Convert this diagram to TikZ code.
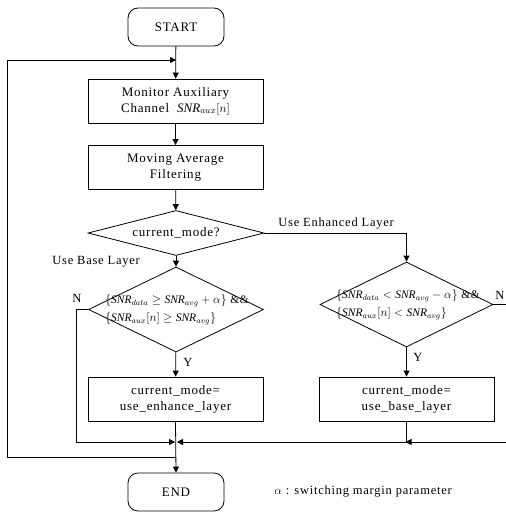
\documentclass[tikz,border=0pt]{standalone}
\usepackage{fontspec}
\setmainfont[LetterSpace=6]{Liberation Serif}
\usetikzlibrary{shapes.geometric,arrows.meta}
\begin{document}
\begin{tikzpicture}[x=1pt,y=-1pt,
  font=\fontsize{13}{16}\selectfont,
  every node/.style={inner sep=0pt},
  term/.style={draw,rounded corners=10pt,minimum width=96pt,minimum height=38pt},
  procbox/.style={draw,minimum width=175pt,minimum height=44pt,align=center},
  cond/.style={align=left,font=\fontsize{11.5}{18}\selectfont},
  lbl/.style={font=\fontsize{12.5}{14}\selectfont},
  arr/.style={-{Triangle[length=6pt,width=6pt]}},
  line width=0.8pt]
\useasboundingbox (0,0) rectangle (506,512);
% nodes
\node[term] (start) at (176,27) {START};
\node[procbox] (mon) at (175.5,101) {Monitor Auxiliary\\Channel \ $\mathit{SNR}_{aux}[n]$};
\node[procbox] (mav) at (175.5,167.5) {Moving Average\\Filtering};
\node[draw,diamond,minimum width=176pt,minimum height=45pt,aspect=3.9] (d1) at (176,233) {};
\node (d1t) at (176,233) {current\_mode?};
\node[draw,diamond,minimum width=175pt,minimum height=85pt,aspect=2.06] (d2) at (176,309.5) {};
\node[cond] (d2t) at (177,310) {$\{\mathit{SNR}_{data}\geq \mathit{SNR}_{avg}+\alpha\}$ \&\&\\$\{\mathit{SNR}_{aux}[n]\geq \mathit{SNR}_{avg}\}$};
\node[draw,diamond,minimum width=173pt,minimum height=85pt,aspect=2.04] (d3) at (406.5,304.5) {};
\node[cond] (d3t) at (408,305) {$\{\mathit{SNR}_{data}< \mathit{SNR}_{avg}-\alpha\}$ \&\&\\$\{\mathit{SNR}_{aux}[n]< \mathit{SNR}_{avg}\}$};
\node[procbox] (b1) at (175.5,399) {current\_mode=\\use\_enhance\_layer};
\node[procbox] (b2) at (406.5,399) {current\_mode=\\use\_base\_layer};
\node[term] (end) at (176,492) {END};
\node[lbl,anchor=west] (note) at (274,492) {$\alpha$ : switching margin parameter};
% coordinates
\coordinate (loopTop) at (176,60);
\coordinate (jn) at (176,442);
\coordinate (jl) at (176,457);
\coordinate (re) at (506,304.5);
\coordinate (jr) at (406.5,442);
% labels
\node[lbl,anchor=south west] (ue) at (278,230) {Use Enhanced Layer};
\node[lbl,anchor=west] (ub) at (52,262) {Use Base Layer};
\node[lbl] (n1) at (77,298) {N};
\node[lbl] (n2) at (500,295) {N};
\node[lbl] (y1) at (188,362) {Y};
\node[lbl] (y2) at (418,357) {Y};
% connectors
\draw[arr] (start) -- (mon);
\draw[arr] (mon) -- (mav);
\draw[arr] (mav) -- (d1);
\draw[arr] (d1) -- (d2);
\draw[arr] (d1.east) -| (d3.north);
\draw[arr] (d2) -- (b1);
\draw[arr] (d3) -- (b2);
\draw[arr] (d2.west) -- (76,309.5) |- ([xshift=-1pt]jn);
\draw[arr] (d3.east) -- (re) |- ([xshift=-1pt]jr);
\draw[arr] (b2.south) -- (jr) -- ([xshift=1pt]jn);
\draw[arr] (b1.south) -- (end.north);
\draw[arr] (jl) -- (7,457) |- (loopTop);
\end{tikzpicture}
\end{document}
